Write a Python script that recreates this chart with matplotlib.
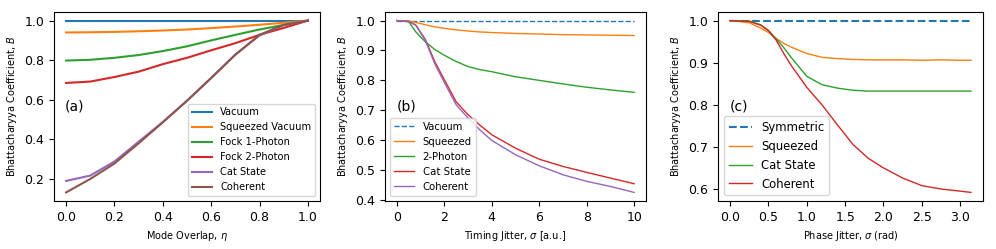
import numpy as np
import matplotlib.pyplot as plt

# (a) mode overlap
eta = [0.0, 0.1, 0.2, 0.3, 0.4, 0.5, 0.6, 0.7, 0.8, 0.9, 1.0]
a_vacuum = [1.0] * 11
a_squeezed = [0.940, 0.941, 0.943, 0.946, 0.950, 0.955, 0.962, 0.970, 0.979, 0.989, 1.0]
a_fock1 = [0.798, 0.802, 0.812, 0.826, 0.846, 0.870, 0.900, 0.928, 0.955, 0.978, 1.0]
a_fock2 = [0.685, 0.692, 0.715, 0.742, 0.780, 0.812, 0.850, 0.886, 0.928, 0.963, 1.0]
a_cat = [0.190, 0.217, 0.288, 0.388, 0.488, 0.595, 0.710, 0.828, 0.925, 0.978, 1.0]
a_coherent = [0.132, 0.200, 0.278, 0.380, 0.486, 0.595, 0.710, 0.828, 0.928, 0.978, 1.0]

# (b) timing jitter
sig_t = [0, 0.5, 0.8, 1.2, 1.6, 2, 2.5, 3, 3.5, 4, 5, 6, 7, 8, 9, 10]
b_vacuum = [1.0] * 16
b_squeezed = [1.0, 0.999, 0.994, 0.986, 0.979, 0.974, 0.969, 0.965, 0.962, 0.960, 0.957, 0.955, 0.953, 0.952, 0.951, 0.950]
b_2photon = [1.0, 0.996, 0.962, 0.929, 0.903, 0.884, 0.863, 0.846, 0.836, 0.829, 0.812, 0.800, 0.788, 0.777, 0.768, 0.760]
b_cat = [1.0, 0.997, 0.985, 0.937, 0.862, 0.802, 0.728, 0.685, 0.650, 0.618, 0.573, 0.536, 0.512, 0.492, 0.473, 0.454]
b_coherent = [1.0, 0.997, 0.984, 0.934, 0.855, 0.793, 0.718, 0.674, 0.634, 0.599, 0.551, 0.514, 0.484, 0.462, 0.445, 0.425]

# (c) phase jitter
sig_p = [0, 0.25, 0.4, 0.5, 0.6, 0.7, 0.8, 1.0, 1.2, 1.4, 1.6, 1.8, 2.0, 2.25, 2.5, 2.75, 3.0, 3.14]
c_symmetric = [1.0] * 18
c_squeezed = [1.0, 0.995, 0.982, 0.972, 0.958, 0.946, 0.937, 0.922, 0.913, 0.910, 0.908, 0.907, 0.907, 0.907, 0.906, 0.907, 0.906, 0.906]
c_cat = [1.0, 0.999, 0.990, 0.977, 0.957, 0.936, 0.912, 0.868, 0.848, 0.840, 0.835, 0.833, 0.833, 0.833, 0.833, 0.833, 0.833, 0.833]
c_coherent = [1.0, 0.998, 0.989, 0.976, 0.954, 0.922, 0.893, 0.842, 0.800, 0.753, 0.707, 0.674, 0.651, 0.627, 0.609, 0.601, 0.596, 0.593]

fig = plt.figure(figsize=(9.96, 2.49), dpi=100)
W, H = 996, 249
def box(l, r, t, b):
    return [l / W, 1 - b / H, (r - l) / W, (b - t) / H]

ax1 = fig.add_axes(box(54, 320, 12, 201))
ax2 = fig.add_axes(box(385, 646, 12, 201))
ax3 = fig.add_axes(box(718, 983, 12, 201))

ylab = 'Bhattacharyya Coefficient, $B$'

# panel a
ax1.plot(eta, a_vacuum, lw=1.5, label='Vacuum')
ax1.plot(eta, a_squeezed, lw=1.5, label='Squeezed Vacuum')
ax1.plot(eta, a_fock1, lw=1.5, label='Fock 1-Photon')
ax1.plot(eta, a_fock2, lw=1.5, label='Fock 2-Photon')
ax1.plot(eta, a_cat, lw=1.5, label='Cat State')
ax1.plot(eta, a_coherent, lw=1.5, label='Coherent')
ax1.set_xlabel(r'Mode Overlap, $\eta$', fontsize=7)
ax1.set_ylabel(ylab, fontsize=7)
ax1.legend(loc='lower right', fontsize=7.1)
ax1.text(0.04, 0.5, '(a)', transform=ax1.transAxes, fontsize=10, va='center')

# panel b
ax2.plot(sig_t, b_vacuum, '--', lw=1, label='Vacuum')
ax2.plot(sig_t, b_squeezed, lw=1, label='Squeezed')
ax2.plot(sig_t, b_2photon, lw=1, label='2-Photon')
ax2.plot(sig_t, b_cat, lw=1, label='Cat State')
ax2.plot(sig_t, b_coherent, lw=1, color='tab:purple', label='Coherent')
ax2.set_xlabel(r'Timing Jitter, $\sigma$ [a.u.]', fontsize=7)
ax2.set_ylabel(ylab, fontsize=7)
ax2.legend(loc='lower left', fontsize=7.3)
ax2.text(0.045, 0.5, '(b)', transform=ax2.transAxes, fontsize=10, va='center')

# panel c
ax3.plot(sig_p, c_symmetric, '--', lw=1.5, label='Symmetric')
ax3.plot(sig_p, c_squeezed, lw=1, label='Squeezed')
ax3.plot(sig_p, c_cat, lw=1, label='Cat State')
ax3.plot(sig_p, c_coherent, lw=1, label='Coherent')
ax3.set_xlabel(r'Phase Jitter, $\sigma$ (rad)', fontsize=7)
ax3.set_ylabel(ylab, fontsize=7)
ax3.legend(loc='lower left', fontsize=8.4)
ax3.text(0.045, 0.5, '(c)', transform=ax3.transAxes, fontsize=10, va='center')

for ax in (ax1, ax2, ax3):
    ax.tick_params(labelsize=9)

plt.savefig('out.png', dpi=100)
